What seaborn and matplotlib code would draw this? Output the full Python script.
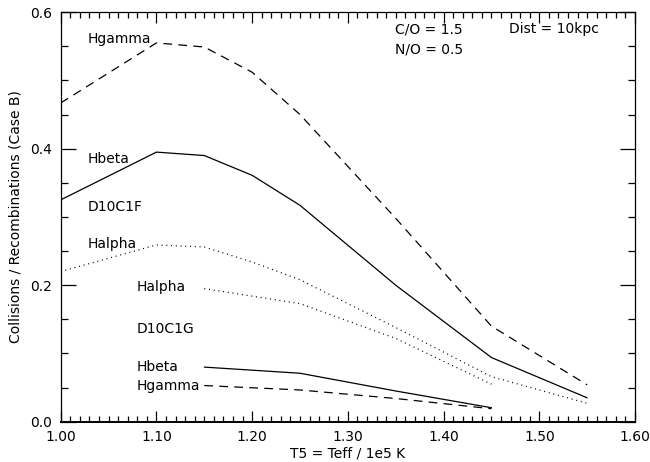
import matplotlib
matplotlib.use("Agg")
import matplotlib.pyplot as plt
import numpy as np
import pandas as pd
import seaborn as sns
from matplotlib.ticker import MultipleLocator, FormatStrFormatter

# model D10C1F
teff_f = [1.00, 1.10, 1.15, 1.20, 1.25, 1.35, 1.45, 1.55]
hgamma_f = [0.467, 0.555, 0.549, 0.512, 0.450, 0.298, 0.140, 0.054]
hbeta_f = [0.325, 0.395, 0.390, 0.361, 0.317, 0.200, 0.094, 0.035]
halpha_f = [0.220, 0.259, 0.256, 0.234, 0.208, 0.138, 0.066, 0.027]

# model D10C1G
teff_g = [1.15, 1.25, 1.35, 1.45]
halpha_g = [0.195, 0.173, 0.122, 0.055]
hbeta_g = [0.080, 0.071, 0.045, 0.0205]
hgamma_g = [0.053, 0.0465, 0.034, 0.019]

sns.set_style("ticks")
plt.rcParams["font.family"] = ["DejaVu Sans"]
plt.rcParams.update({
    "xtick.direction": "in",
    "ytick.direction": "in",
    "text.color": "black",
    "axes.labelcolor": "black",
    "axes.edgecolor": "black",
    "xtick.color": "black",
    "ytick.color": "black",
})

DASH = (0, (7, 5))
DOT = (0, (0.8, 3.0))

series = [
    (teff_f, hgamma_f, DASH),
    (teff_f, hbeta_f, "-"),
    (teff_f, halpha_f, DOT),
    (teff_g, halpha_g, DOT),
    (teff_g, hbeta_g, "-"),
    (teff_g, hgamma_g, DASH),
]

fig = plt.figure(figsize=(6.5, 4.62), dpi=100)
ax = fig.add_axes([0.0934, 0.0872, 0.8836, 0.8864])

for x, y, ls in series:
    df = pd.DataFrame({"T5": x, "ratio": y})
    sns.lineplot(data=df, x="T5", y="ratio", color="black", linewidth=0.9,
                 linestyle=ls, ax=ax)

ax.set_xlim(1.0, 1.6)
ax.set_ylim(0.0, 0.6)
ax.xaxis.set_major_locator(MultipleLocator(0.1))
ax.xaxis.set_minor_locator(MultipleLocator(0.01))
ax.yaxis.set_major_locator(MultipleLocator(0.2))
ax.yaxis.set_minor_locator(MultipleLocator(0.05))
ax.xaxis.set_major_formatter(FormatStrFormatter("%.2f"))
ax.yaxis.set_major_formatter(FormatStrFormatter("%.1f"))
ax.tick_params(which="both", top=True, right=True, width=0.9, labelsize=10, pad=6)
ax.tick_params(axis="x", which="major", length=8)
ax.tick_params(axis="x", which="minor", length=4)
ax.tick_params(axis="y", which="major", length=11)
ax.tick_params(axis="y", which="minor", length=5)
for s in ax.spines.values():
    s.set_linewidth(0.9)
ax.spines["bottom"].set_linewidth(1.4)

ax.set_xlabel("T5 = Teff / 1e5 K", fontsize=10, labelpad=2)
ax.set_ylabel("Collisions / Recombinations (Case B)", fontsize=10, labelpad=6)

labels = [
    (1.0284, 0.5607, "Hgamma"),
    (1.0284, 0.385, "Hbeta"),
    (1.0284, 0.3146, "D10C1F"),
    (1.0284, 0.260, "Halpha"),
    (1.0795, 0.198, "Halpha"),
    (1.0795, 0.136, "D10C1G"),
    (1.0795, 0.0806, "Hbeta"),
    (1.0795, 0.0527, "Hgamma"),
    (1.349, 0.575, "C/O = 1.5"),
    (1.4688, 0.575, "Dist = 10kpc"),
    (1.349, 0.5455, "N/O = 0.5"),
]
for x, y, t in labels:
    ax.text(x, y, t, fontsize=10, ha="left", va="center")

fig.savefig("out.png", dpi=100)
